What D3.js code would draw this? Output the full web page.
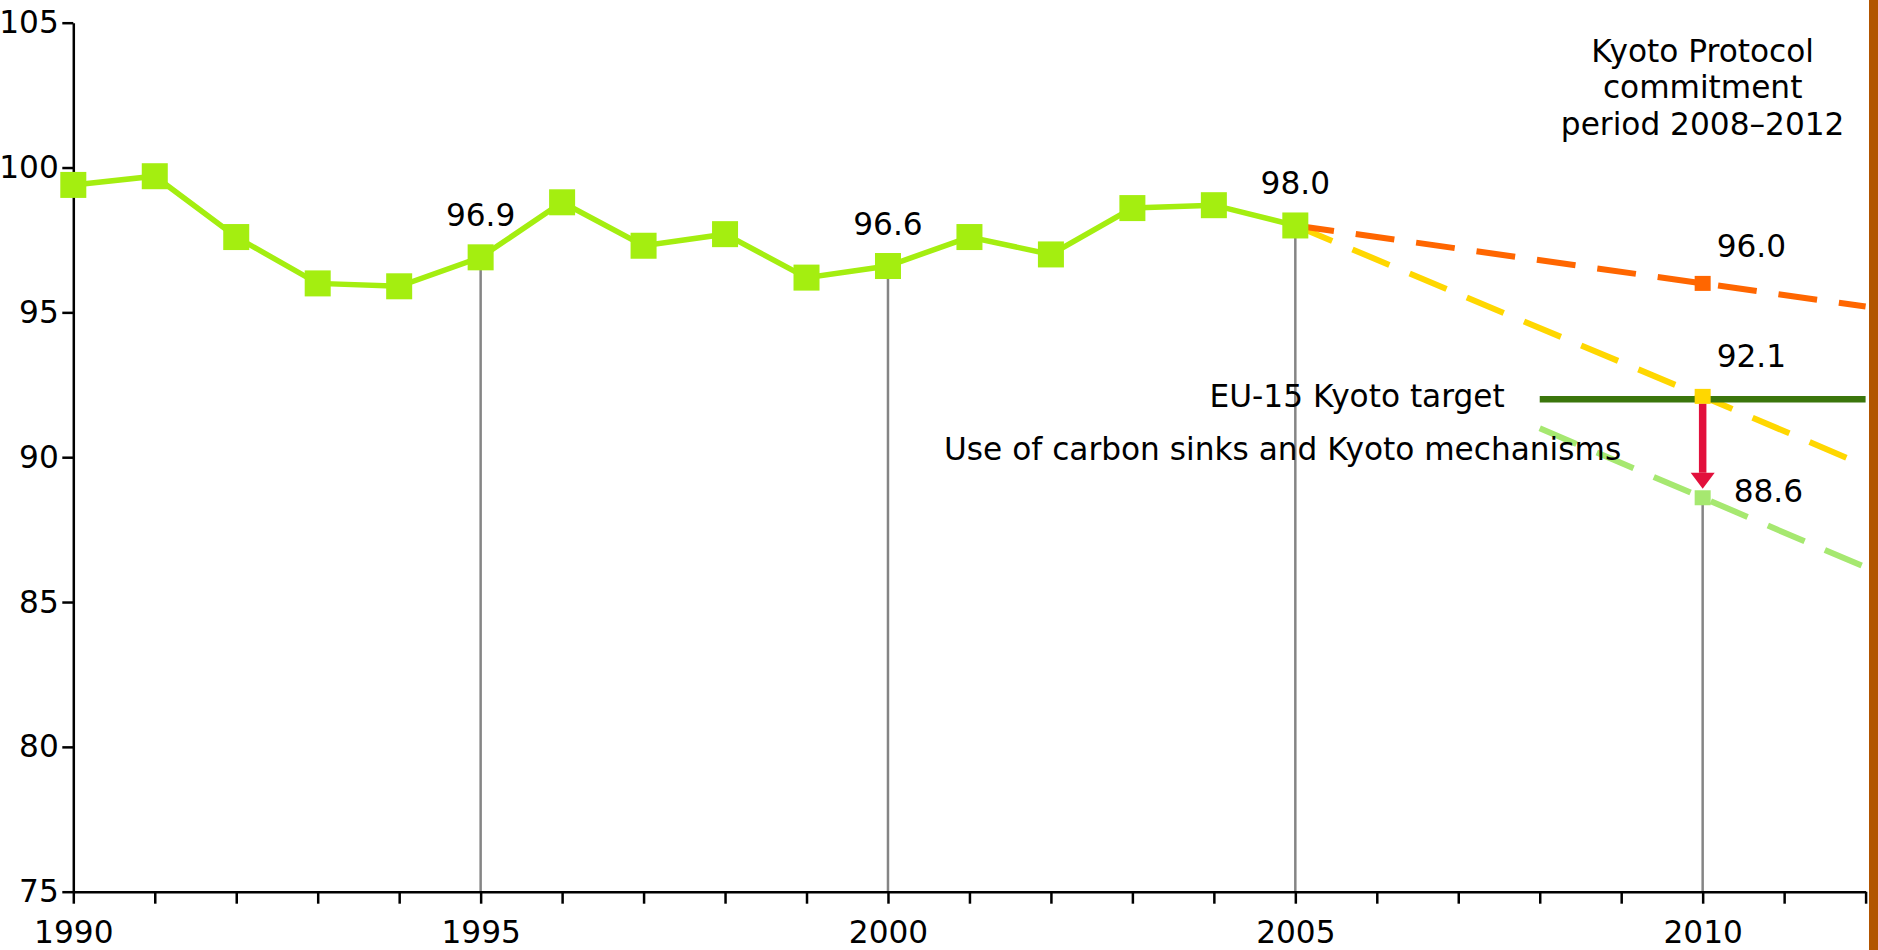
<!DOCTYPE html>
<html>
<head>
<meta charset="utf-8">
<script src="https://cdn.jsdelivr.net/npm/d3@7"></script>
<style>
    body { margin: 0; background: #ffffff; }
    svg { display: block; font-family: Verdana, "DejaVu Sans", sans-serif; }
</style>
</head>
<body>
<svg id="SVG_CONTAINER" width="1878" height="950"></svg>
<script>
let d3 = window.d3;

const width  = 1878,
      height = 950;

const MARGIN = {
    "LEFT": 73.3,
    "RIGHT": 12.4,
    "TOP": 22.7,
    "BOTTOM": 58.3,
};

// historic emissions, index 1990 = 100
const years     = [1990, 1991, 1992, 1993, 1994, 1995, 1996, 1997, 1998, 1999, 2000, 2001, 2002, 2003, 2004, 2005];
const emissions = [99.4, 99.7, 97.6, 96.0, 95.9, 96.9, 98.8, 97.3, 97.7, 96.2, 96.6, 97.6, 97.0, 98.6, 98.7, 98.0];

// projections
const projYears        = [2005, 2010, 2012];
const existingMeasures = [98.0, 96.0, 95.2];
const additionalMeas   = [98.0, 92.1, 89.7];
const sinksYears       = [2008, 2010, 2012];
const sinksValues      = [91.0, 88.6, 86.2];

// Kyoto target
const targetYears = [2008, 2012];
const targetValue = 92.0;

// values written on the chart
const labelYears  = [1995, 2000, 2005];
const labelValues = [96.9, 96.6, 98.0];
const dropYears   = [1995, 2000, 2005, 2010];
const dropValues  = [96.9, 96.6, 98.0, 88.6];

const yTicks     = [75, 80, 85, 90, 95, 100, 105];
const xTicks     = [1990, 1991, 1992, 1993, 1994, 1995, 1996, 1997, 1998, 1999, 2000, 2001,
                    2002, 2003, 2004, 2005, 2006, 2007, 2008, 2009, 2010, 2011, 2012];
const xTickLabels = [1990, 1995, 2000, 2005, 2010];

const periodText = ["Kyoto Protocol", "commitment", "period 2008\u20132012"];

const FONT = "31.2px";

let svg = d3.select("#SVG_CONTAINER");

let xScale = d3.scaleLinear()
    .domain([1990, 2012])
    .range([MARGIN.LEFT, width - MARGIN.RIGHT]);

let yScale = d3.scaleLinear()
    .domain([75, 105])
    .range([height - MARGIN.BOTTOM, MARGIN.TOP]);

let chart = svg.append('g').attr('class', 'chart');

// gray drop lines
chart.selectAll('.drop')
    .data(dropYears)
    .enter()
    .append('line')
        .attr('class', 'drop')
        .attr('x1', d => xScale(d))
        .attr('x2', d => xScale(d))
        .attr('y1', (d, i) => yScale(dropValues[i]))
        .attr('y2', yScale(75))
        .style('stroke', '#858585')
        .style('stroke-width', 2.5);

// x axis
let xAxis = chart.append('g')
    .attr('transform', 'translate(0, ' + (height - MARGIN.BOTTOM) + ')')
    .call(d3.axisBottom(xScale)
        .tickValues(xTicks)
        .tickSize(12)
        .tickSizeOuter(0)
        .tickPadding(17)
        .tickFormat(d => xTickLabels.indexOf(d) >= 0 ? d : ""));

// y axis
let yAxis = chart.append('g')
    .attr('transform', 'translate(' + MARGIN.LEFT + ', 0)')
    .call(d3.axisLeft(yScale)
        .tickValues(yTicks)
        .tickSize(11)
        .tickSizeOuter(0)
        .tickPadding(3.5));

[xAxis, yAxis].forEach(function (ax) {
    ax.selectAll('path, line').style('stroke', '#000').style('stroke-width', 2.5);
    ax.selectAll('text').style('font-size', FONT).style('fill', '#000')
        .style('font-family', 'Verdana, "DejaVu Sans", sans-serif');
});

let line = d3.line()
    .x(d => xScale(d[0]))
    .y(d => yScale(d[1]));

// dashed projections
chart.append('path')
    .datum(projYears.map((d, i) => [d, additionalMeas[i]]))
    .attr('d', line)
    .style('fill', 'none')
    .style('stroke', '#ffd700')
    .style('stroke-width', 6)
    .style('stroke-dasharray', '40 22');

chart.append('path')
    .datum(projYears.map((d, i) => [d, existingMeasures[i]]))
    .attr('d', line)
    .style('fill', 'none')
    .style('stroke', '#ff6600')
    .style('stroke-width', 6)
    .style('stroke-dasharray', '39 22');

chart.append('path')
    .datum(sinksYears.map((d, i) => [d, sinksValues[i]]))
    .attr('d', line)
    .style('fill', 'none')
    .style('stroke', '#a6e870')
    .style('stroke-width', 6)
    .style('stroke-dasharray', '40 22');

// target line
chart.append('line')
    .attr('x1', xScale(targetYears[0]))
    .attr('x2', xScale(targetYears[1]))
    .attr('y1', yScale(targetValue))
    .attr('y2', yScale(targetValue))
    .style('stroke', '#3b760c')
    .style('stroke-width', 6.5);

// historic line
chart.append('path')
    .datum(years.map((d, i) => [d, emissions[i]]))
    .attr('d', line)
    .style('fill', 'none')
    .style('stroke', '#a4ee10')
    .style('stroke-width', 5.5);

chart.selectAll('.hist')
    .data(years)
    .enter()
    .append('rect')
        .attr('class', 'hist')
        .attr('x', d => xScale(d) - 13)
        .attr('y', (d, i) => yScale(emissions[i]) - 13)
        .attr('width', 26)
        .attr('height', 26)
        .style('fill', '#a4ee10');

// 2010 markers
const marks2010 = [
    { v: existingMeasures[1], c: '#ff6600' },
    { v: additionalMeas[1],   c: '#ffd700' },
    { v: sinksValues[1],      c: '#a6e870' },
];
chart.selectAll('.m2010')
    .data(marks2010)
    .enter()
    .append('rect')
        .attr('class', 'm2010')
        .attr('x', xScale(2010) - 8)
        .attr('y', d => yScale(d.v) - 7.5)
        .attr('width', 16)
        .attr('height', 15)
        .style('fill', d => d.c);

// red arrow from target down to sinks value
let arrowX = xScale(2010),
    arrowTop = yScale(additionalMeas[1]) + 7.5,
    arrowTip = yScale(sinksValues[1]) - 9,
    headStart = arrowTip - 16;
chart.append('rect')
    .attr('x', arrowX - 3.75)
    .attr('y', arrowTop)
    .attr('width', 7.5)
    .attr('height', headStart - arrowTop)
    .style('fill', '#e2103c');
chart.append('path')
    .attr('d', `M${arrowX - 12},${headStart} L${arrowX + 12},${headStart} L${arrowX},${arrowTip} Z`)
    .style('fill', '#e2103c');

// value labels
chart.selectAll('.vlabel')
    .data(labelYears)
    .enter()
    .append('text')
        .attr('class', 'vlabel')
        .attr('x', d => xScale(d))
        .attr('y', (d, i) => yScale(labelValues[i]) - 31)
        .attr('text-anchor', 'middle')
        .style('font-size', FONT)
        .text((d, i) => labelValues[i].toFixed(1));

svg.append('text')
    .attr('x', xScale(2010) + 14)
    .attr('y', yScale(existingMeasures[1]) - 26.6)
    .style('font-size', FONT)
    .text(existingMeasures[1].toFixed(1));

svg.append('text')
    .attr('x', xScale(2010) + 14)
    .attr('y', yScale(additionalMeas[1]) - 29.6)
    .style('font-size', FONT)
    .text(additionalMeas[1].toFixed(1));

svg.append('text')
    .attr('x', xScale(2010) + 31)
    .attr('y', yScale(sinksValues[1]) + 4)
    .style('font-size', FONT)
    .text(sinksValues[1].toFixed(1));

// annotations
svg.append('text')
    .attr('x', xScale(targetYears[0]) - 35)
    .attr('y', yScale(targetValue) + 7.4)
    .attr('text-anchor', 'end')
    .style('font-size', FONT)
    .text("EU-15 Kyoto target");

svg.append('text')
    .attr('x', 944)
    .attr('y', 460)
    .style('font-size', FONT)
    .text("Use of carbon sinks and Kyoto mechanisms");

svg.append('text')
    .attr('text-anchor', 'middle')
    .style('font-size', FONT)
    .selectAll('tspan')
    .data(periodText)
    .enter()
    .append('tspan')
        .attr('x', xScale(2010))
        .attr('y', (d, i) => 61.7 + i * 36.7)
        .text(d => d);

// right border strip
svg.append('rect')
    .attr('x', 1869)
    .attr('y', 0)
    .attr('width', width - 1869)
    .attr('height', height)
    .style('fill', '#b25500');
</script>
</body>
</html>
